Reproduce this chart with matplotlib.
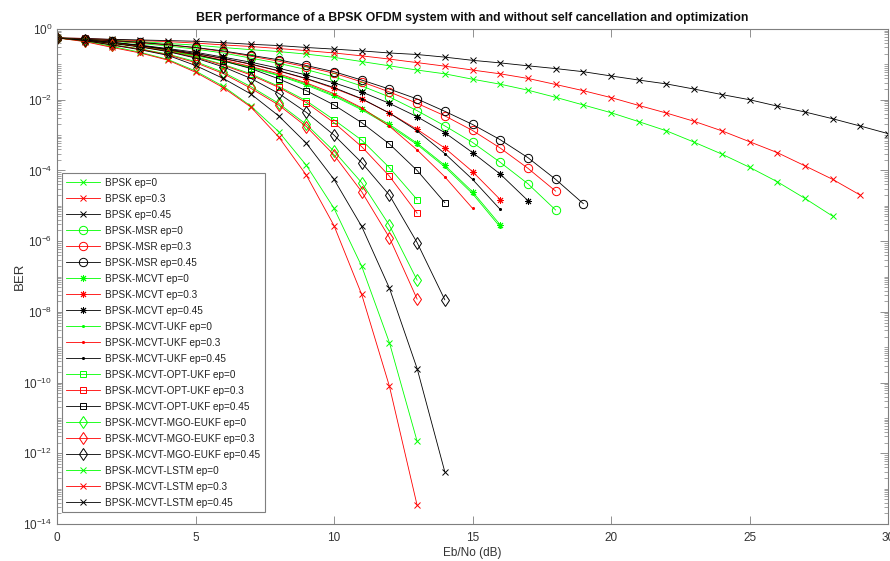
import matplotlib
matplotlib.use("Agg")
import matplotlib.pyplot as plt
from matplotlib.ticker import LogLocator, FixedLocator, NullFormatter

plt.rcParams['font.family'] = ['Liberation Sans', 'DejaVu Sans']
plt.rcParams['mathtext.default'] = 'regular'

# ---------------- data (BER) ----------------
snr_bpsk_ep0 = list(range(0, 29))
ber_bpsk_ep0 = [0.56, 0.52, 0.48, 0.44, 0.39, 0.35, 0.30, 0.26, 0.23, 0.195, 0.158, 0.120,
                0.091, 0.069, 0.054, 0.038, 0.0275, 0.0186, 0.0117, 7.1e-3, 4.3e-3, 2.4e-3,
                1.32e-3, 6.3e-4, 2.9e-4, 1.23e-4, 4.8e-5, 1.62e-5, 5.1e-6]
snr_bpsk_ep03 = list(range(0, 30))
ber_bpsk_ep03 = [0.56, 0.54, 0.50, 0.47, 0.44, 0.40, 0.355, 0.32, 0.28, 0.245, 0.21, 0.174,
                 0.141, 0.112, 0.089, 0.069, 0.054, 0.040, 0.027, 0.018, 0.0115, 6.9e-3,
                 4.2e-3, 2.45e-3, 1.32e-3, 6.5e-4, 3.2e-4, 1.35e-4, 5.6e-5, 2.0e-5]
snr_bpsk_ep045 = list(range(0, 31))
ber_bpsk_ep045 = [0.56, 0.54, 0.51, 0.49, 0.47, 0.45, 0.41, 0.37, 0.34, 0.30, 0.27, 0.24,
                  0.21, 0.19, 0.16, 0.13, 0.11, 0.091, 0.076, 0.062, 0.047, 0.036, 0.028,
                  0.020, 0.014, 0.010, 6.6e-3, 4.5e-3, 2.9e-3, 1.8e-3, 1.1e-3]

snr_msr_ep0 = list(range(0, 19))
ber_msr_ep0 = [0.56, 0.50, 0.45, 0.39, 0.33, 0.27, 0.21, 0.15, 0.107, 0.071, 0.044, 0.0245,
               0.012, 4.9e-3, 1.82e-3, 6.2e-4, 1.7e-4, 4.2e-5, 7.6e-6]
snr_msr_ep03 = list(range(0, 19))
ber_msr_ep03 = [0.56, 0.51, 0.46, 0.41, 0.355, 0.295, 0.23, 0.17, 0.123, 0.085, 0.056, 0.032,
                0.0166, 7.9e-3, 3.5e-3, 1.35e-3, 4.3e-4, 1.15e-4, 2.6e-5]
snr_msr_ep045 = list(range(0, 20))
ber_msr_ep045 = [0.56, 0.51, 0.47, 0.42, 0.36, 0.30, 0.24, 0.18, 0.135, 0.093, 0.062, 0.036,
                 0.020, 0.0105, 4.7e-3, 2.0e-3, 7.4e-4, 2.3e-4, 5.6e-5, 1.15e-5]

snr_mcvt_ep0 = list(range(0, 17))
ber_mcvt_ep0 = [0.56, 0.48, 0.40, 0.32, 0.245, 0.18, 0.126, 0.083, 0.050, 0.028, 0.0135,
                5.6e-3, 2.0e-3, 5.9e-4, 1.4e-4, 2.5e-5, 2.9e-6]
snr_mcvt_ep03 = list(range(0, 17))
ber_mcvt_ep03 = [0.56, 0.49, 0.41, 0.33, 0.26, 0.20, 0.145, 0.10, 0.065, 0.039, 0.021,
                 0.0105, 4.2e-3, 1.45e-3, 4.3e-4, 9.3e-5, 1.5e-5]
snr_mcvt_ep045 = list(range(0, 18))
ber_mcvt_ep045 = [0.56, 0.49, 0.42, 0.35, 0.28, 0.22, 0.16, 0.115, 0.078, 0.050, 0.030,
                  0.0166, 7.9e-3, 3.3e-3, 1.17e-3, 3.2e-4, 7.9e-5, 1.4e-5]

snr_ukf_ep0 = list(range(0, 17))
ber_ukf_ep0 = [0.56, 0.48, 0.40, 0.32, 0.24, 0.178, 0.123, 0.079, 0.048, 0.026, 0.0126,
               5.2e-3, 1.82e-3, 5.4e-4, 1.26e-4, 2.2e-5, 2.5e-6]
snr_ukf_ep03 = list(range(0, 16))
ber_ukf_ep03 = [0.56, 0.49, 0.40, 0.32, 0.25, 0.186, 0.132, 0.087, 0.054, 0.030, 0.0148,
                5.9e-3, 1.78e-3, 3.8e-4, 6.6e-5, 8.5e-6]
snr_ukf_ep045 = list(range(0, 17))
ber_ukf_ep045 = [0.56, 0.49, 0.41, 0.34, 0.27, 0.204, 0.148, 0.102, 0.066, 0.040, 0.022,
                 0.0107, 4.2e-3, 1.32e-3, 3.0e-4, 5.6e-5, 7.9e-6]

snr_opt_ep0 = list(range(0, 14))
ber_opt_ep0 = [0.56, 0.48, 0.40, 0.32, 0.24, 0.166, 0.10, 0.054, 0.024, 9.3e-3, 2.7e-3,
               7.2e-4, 1.2e-4, 1.5e-5]
snr_opt_ep03 = list(range(0, 14))
ber_opt_ep03 = [0.56, 0.48, 0.40, 0.32, 0.234, 0.158, 0.095, 0.050, 0.0224, 8.3e-3, 2.24e-3,
                4.7e-4, 6.9e-5, 6.2e-6]
snr_opt_ep045 = list(range(0, 15))
ber_opt_ep045 = [0.56, 0.49, 0.42, 0.34, 0.26, 0.19, 0.126, 0.076, 0.039, 0.018, 7.1e-3,
                 2.24e-3, 5.6e-4, 1.0e-4, 1.23e-5]

snr_mgo_ep0 = list(range(0, 14))
ber_mgo_ep0 = [0.56, 0.47, 0.36, 0.275, 0.195, 0.12, 0.060, 0.0234, 7.9e-3, 2.0e-3, 3.5e-4,
               4.5e-5, 2.8e-6, 7.9e-8]
snr_mgo_ep03 = list(range(0, 14))
ber_mgo_ep03 = [0.56, 0.47, 0.355, 0.27, 0.186, 0.112, 0.055, 0.021, 7.1e-3, 1.74e-3,
                2.75e-4, 2.5e-5, 1.26e-6, 2.3e-8]
snr_mgo_ep045 = list(range(0, 15))
ber_mgo_ep045 = [0.56, 0.48, 0.39, 0.31, 0.23, 0.151, 0.085, 0.040, 0.0151, 4.4e-3, 1.0e-3,
                 1.66e-4, 2.0e-5, 9.1e-7, 2.2e-8]

snr_lstm_ep0 = list(range(0, 14))
ber_lstm_ep0 = [0.56, 0.45, 0.32, 0.22, 0.138, 0.065, 0.024, 6.6e-3, 1.26e-3, 1.4e-4, 8.5e-6,
                1.95e-7, 1.35e-9, 2.2e-12]
snr_lstm_ep03 = list(range(0, 14))
ber_lstm_ep03 = [0.56, 0.44, 0.30, 0.21, 0.132, 0.060, 0.022, 6.2e-3, 8.9e-4, 7.4e-5, 2.75e-6,
                 3.1e-8, 7.9e-11, 3.4e-14]
snr_lstm_ep045 = list(range(0, 15))
ber_lstm_ep045 = [0.56, 0.47, 0.35, 0.26, 0.18, 0.093, 0.040, 0.0145, 3.5e-3, 5.9e-4, 5.6e-5,
                  2.6e-6, 4.7e-8, 2.5e-10, 3.0e-13]

labels = ["BPSK ep=0", "BPSK ep=0.3", "BPSK ep=0.45",
          "BPSK-MSR ep=0", "BPSK-MSR ep=0.3", "BPSK-MSR ep=0.45",
          "BPSK-MCVT ep=0", "BPSK-MCVT ep=0.3", "BPSK-MCVT ep=0.45",
          "BPSK-MCVT-UKF ep=0", "BPSK-MCVT-UKF ep=0.3", "BPSK-MCVT-UKF ep=0.45",
          "BPSK-MCVT-OPT-UKF ep=0", "BPSK-MCVT-OPT-UKF ep=0.3", "BPSK-MCVT-OPT-UKF ep=0.45",
          "BPSK-MCVT-MGO-EUKF ep=0", "BPSK-MCVT-MGO-EUKF ep=0.3", "BPSK-MCVT-MGO-EUKF ep=0.45",
          "BPSK-MCVT-LSTM ep=0", "BPSK-MCVT-LSTM ep=0.3", "BPSK-MCVT-LSTM ep=0.45"]

series = [(snr_bpsk_ep0, ber_bpsk_ep0), (snr_bpsk_ep03, ber_bpsk_ep03), (snr_bpsk_ep045, ber_bpsk_ep045),
          (snr_msr_ep0, ber_msr_ep0), (snr_msr_ep03, ber_msr_ep03), (snr_msr_ep045, ber_msr_ep045),
          (snr_mcvt_ep0, ber_mcvt_ep0), (snr_mcvt_ep03, ber_mcvt_ep03), (snr_mcvt_ep045, ber_mcvt_ep045),
          (snr_ukf_ep0, ber_ukf_ep0), (snr_ukf_ep03, ber_ukf_ep03), (snr_ukf_ep045, ber_ukf_ep045),
          (snr_opt_ep0, ber_opt_ep0), (snr_opt_ep03, ber_opt_ep03), (snr_opt_ep045, ber_opt_ep045),
          (snr_mgo_ep0, ber_mgo_ep0), (snr_mgo_ep03, ber_mgo_ep03), (snr_mgo_ep045, ber_mgo_ep045),
          (snr_lstm_ep0, ber_lstm_ep0), (snr_lstm_ep03, ber_lstm_ep03), (snr_lstm_ep045, ber_lstm_ep045)]

colors = ['#00ff00', '#ff0000', '#000000']
markers = ['x', 'o', (8, 2, 0), '.', 's', 'd', 'x']
msizes = [4.5, 6, 5, 3, 4.6, 6.5, 4.5]

# ---------------- figure ----------------
fig = plt.figure(figsize=(8.9, 5.61), dpi=100)
ax = fig.add_axes([57 / 890, 37 / 561, 831 / 890, 495 / 561])

for i, (x, y) in enumerate(series):
    g = i // 3
    c = colors[i % 3]
    ax.semilogy(x, y, color=c, lw=0.6, marker=markers[g], ms=msizes[g],
                mfc='none' if markers[g] in ('o', 's', 'd') else c, mec=c, mew=0.7,
                label=labels[i])

ax.set_xlim(0, 30)
ax.set_ylim(1e-14, 1)
ax.set_xticks([0, 5, 10, 15, 20, 25, 30])
ax.yaxis.set_major_locator(FixedLocator([10.0 ** (-k) for k in range(0, 15, 2)]))
ax.yaxis.set_minor_locator(LogLocator(base=10, subs=[1, 2, 3, 4, 5, 6, 7, 8, 9], numticks=40))
ax.yaxis.set_minor_formatter(NullFormatter())

for s in ax.spines.values():
    s.set_color('#7f7f7f')
    s.set_linewidth(0.8)
ax.tick_params(which='both', direction='in', top=True, right=True, colors='#7f7f7f',
               labelcolor='#333333', labelsize=8.5)
ax.tick_params(which='major', length=6, width=0.6)
ax.tick_params(which='minor', length=3, width=0.5)
ax.tick_params(axis='x', pad=6)

ax.set_title("BER performance of a BPSK OFDM system with and without self cancellation and optimization",
             fontsize=8.85, fontweight='bold', color='#111111', pad=6)
ax.set_xlabel("Eb/No (dB)", fontsize=8.5, color='#333333', labelpad=2)
ax.set_ylabel("BER", fontsize=9.5, color='#333333', labelpad=-2)

leg = ax.legend(loc='upper left', bbox_to_anchor=(0.006, 0.709), fontsize=7.2,
                frameon=True, fancybox=False, framealpha=1, edgecolor='#7f7f7f',
                handlelength=3.4, handletextpad=0.5, labelspacing=0.6,
                borderpad=0.45, borderaxespad=0.0)
leg.get_frame().set_linewidth(0.8)
for t in leg.get_texts():
    t.set_color('#222222')

fig.savefig("out.png", dpi=100)
